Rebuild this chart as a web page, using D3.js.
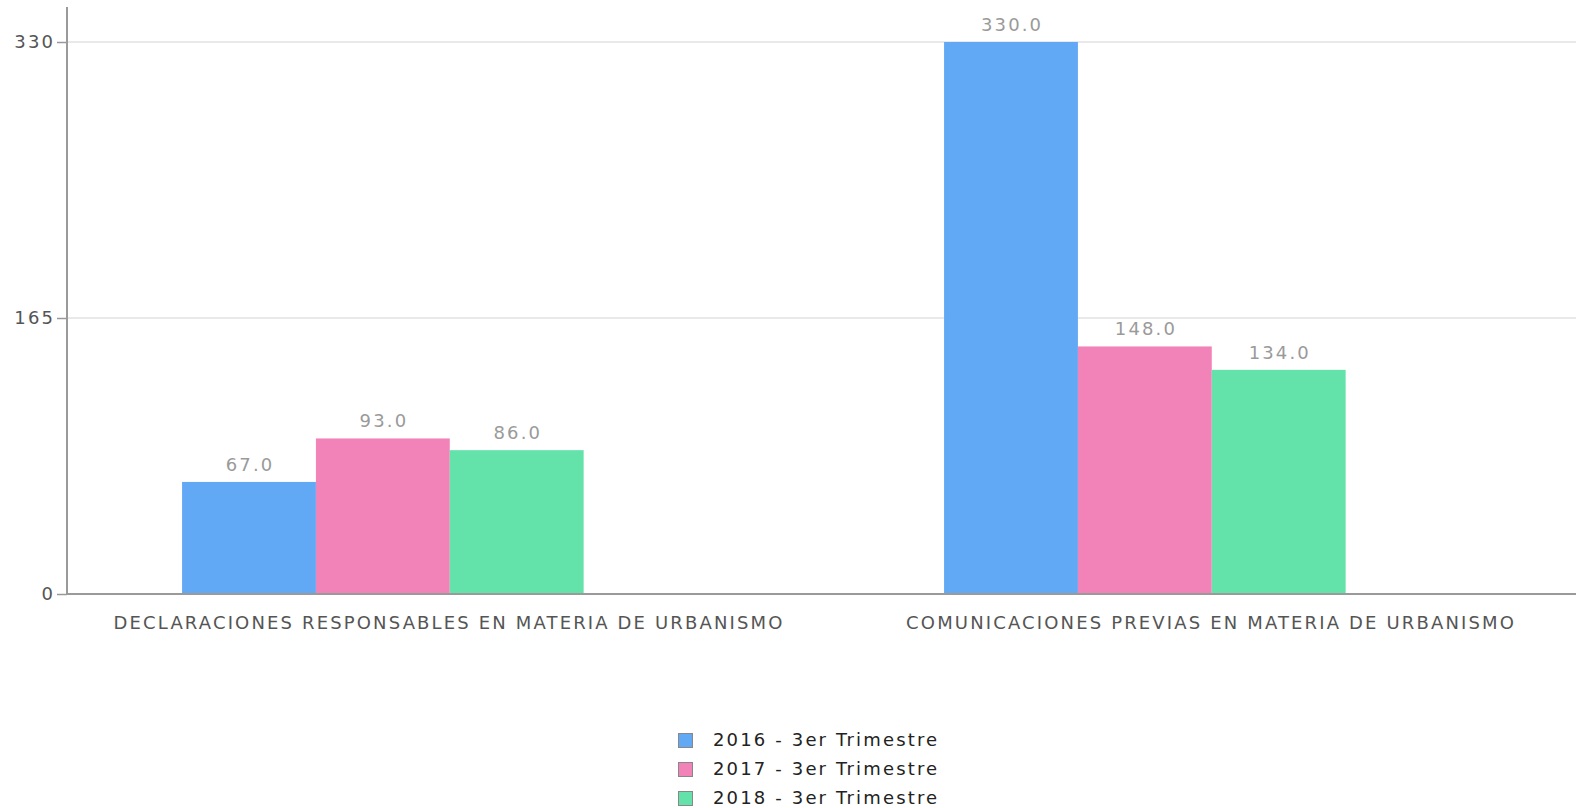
<!DOCTYPE html>
<html>
<head>
<meta charset="utf-8">
<script src="https://cdn.jsdelivr.net/npm/d3@7/dist/d3.min.js"></script>
<style>
  html, body { margin: 0; padding: 0; background: #fff; }
  svg { display: block; font-family: "DejaVu Sans", sans-serif; }
</style>
</head>
<body>
<svg id="chart" width="1576" height="808"></svg>
<script>
const categories = [
  "DECLARACIONES RESPONSABLES EN MATERIA DE URBANISMO",
  "COMUNICACIONES PREVIAS EN MATERIA DE URBANISMO"
];
const seriesNames = ["2016 - 3er Trimestre", "2017 - 3er Trimestre", "2018 - 3er Trimestre"];
const values2016 = [67, 330];
const values2017 = [93, 148];
const values2018 = [86, 134];
const yTicks = [0, 165, 330];
const colors = ["#62a9f5", "#f283b9", "#63e3aa"];

const seriesValues = [values2016, values2017, values2018];

const svg = d3.select("#chart");
const left = 67, zeroY = 594, topY = 42, axisTop = 7;
const fs = 18, ls = 2.15;

const y = d3.scaleLinear().domain([0, 330]).range([zeroY, topY]);
const x0 = d3.scaleBand().domain(categories).range([left, 1591]).padding(0);
const bw = x0.bandwidth();
const x1 = d3.scaleBand().domain(seriesNames).range([bw * 0.151, bw * 0.678]).padding(0);

// gridlines
svg.append("g").selectAll("line").data(yTicks.filter(d => d > 0)).join("line")
  .attr("x1", left).attr("x2", 1576)
  .attr("y1", d => y(d)).attr("y2", d => y(d))
  .attr("stroke", "#e2e2e2").attr("stroke-width", 1.5);

// bars
const rows = [];
categories.forEach((c, i) => {
  seriesNames.forEach((s, j) => rows.push({ c, s, j, v: seriesValues[j][i] }));
});
svg.append("g").selectAll("rect").data(rows).join("rect")
  .attr("x", d => x0(d.c) + x1(d.s))
  .attr("width", x1.bandwidth())
  .attr("y", d => y(d.v))
  .attr("height", d => y(0) - y(d.v))
  .attr("fill", d => colors[d.j]);

// value labels
svg.append("g").selectAll("text").data(rows).join("text")
  .attr("x", d => x0(d.c) + x1(d.s) + x1.bandwidth() / 2 + ls / 2)
  .attr("y", d => y(d.v) - 11)
  .attr("text-anchor", "middle")
  .attr("font-size", fs).attr("letter-spacing", ls)
  .attr("fill", "#9a9a9a")
  .text(d => d3.format(".1f")(d.v));

// y axis
const yAxis = d3.axisLeft(y).tickValues(yTicks).tickSize(10).tickPadding(4).tickFormat(d3.format("d"));
const gy = svg.append("g").attr("transform", `translate(${left},0)`).call(yAxis);
gy.select(".domain").remove();
gy.selectAll(".tick line").attr("stroke", "#999").attr("stroke-width", 1.5);
gy.selectAll(".tick text").attr("font-size", fs).attr("letter-spacing", ls)
  .attr("fill", "#555").attr("font-family", "DejaVu Sans").attr("dx", ls);
svg.append("line").attr("x1", left).attr("x2", left).attr("y1", axisTop).attr("y2", zeroY)
  .attr("stroke", "#9a9a9a").attr("stroke-width", 2);

// x axis
const xAxis = d3.axisBottom(x0).tickSize(0).tickPadding(22);
const gx = svg.append("g").attr("transform", `translate(0,${zeroY})`).call(xAxis);
gx.select(".domain").remove();
gx.selectAll(".tick text").attr("font-size", fs).attr("letter-spacing", ls)
  .attr("fill", "#555").attr("font-family", "DejaVu Sans").attr("dx", ls / 2);
svg.append("line").attr("x1", left).attr("x2", 1576).attr("y1", zeroY).attr("y2", zeroY)
  .attr("stroke", "#9a9a9a").attr("stroke-width", 2);

// legend
const lg = svg.append("g").selectAll("g").data(seriesNames).join("g")
  .attr("transform", (d, i) => `translate(678, ${733 + i * 29})`);
lg.append("rect").attr("x", 0.5).attr("y", 0.5).attr("width", 14).attr("height", 14)
  .attr("fill", (d, i) => colors[i]).attr("stroke", "#888").attr("stroke-width", 1);
lg.append("text").attr("x", 35).attr("y", 12.5)
  .attr("font-size", fs).attr("letter-spacing", ls).attr("fill", "#222")
  .text(d => d);
</script>
</body>
</html>
